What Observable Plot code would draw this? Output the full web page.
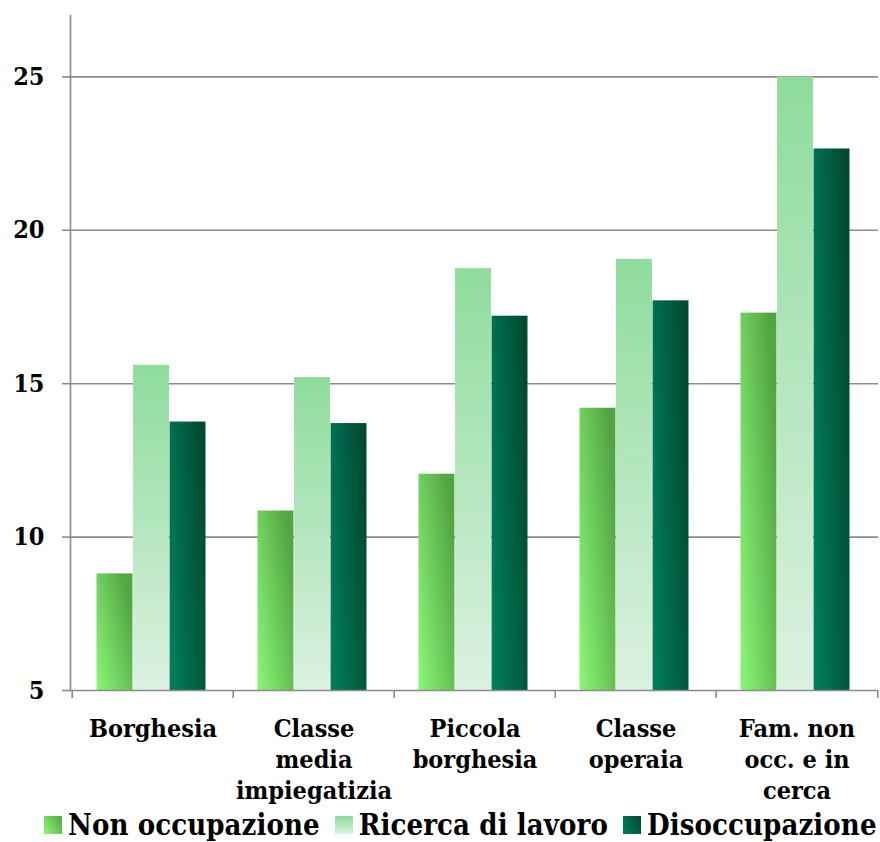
<!DOCTYPE html>
<html><head><meta charset="utf-8">
<script src="https://cdn.jsdelivr.net/npm/d3@7"></script>
<script src="https://cdn.jsdelivr.net/npm/@observablehq/plot@0.6"></script>
<style>
body{margin:0;background:#fff;font-family:"DejaVu Serif Condensed","DejaVu Serif",serif;font-weight:bold;}
#chart svg{display:block;}
#legend{display:flex;align-items:center;height:34px;padding-left:44px;font-size:29px;color:#000;white-space:nowrap;letter-spacing:0.1px;}
#legend .item{display:flex;align-items:center;margin-right:15px;}
#legend .sw{width:18px;height:18px;margin-right:6px;}
</style></head><body><div id="chart"></div><div id="legend"></div>
<script>
const categories = ["Borghesia","Classe media impiegatizia","Piccola borghesia","Classe operaia","Fam. non occ. e in cerca"];
const categoryLabels = ["Borghesia","Classe\nmedia\nimpiegatizia","Piccola\nborghesia","Classe\noperaia","Fam. non\nocc. e in\ncerca"];
const series = ["Non occupazione","Ricerca di lavoro","Disoccupazione"];
const nonOccupazione = [8.8,10.85,12.05,14.2,17.3];
const ricercaLavoro = [15.6,15.2,18.75,19.05,25.0];
const disoccupazione = [13.75,13.7,17.2,17.7,22.65];
const yTicks = [5,10,15,20,25];
const yDomain = [5,27];

const seriesValues = [nonOccupazione, ricercaLavoro, disoccupazione];
const gradients = [
  {id:"g0", x1:0,y1:1,x2:1,y2:0.3, stops:["#8bf878","#53a443"]},
  {id:"g1", x1:0,y1:0,x2:0,y2:1, stops:["#8edc9c","#dcf1e1"]},
  {id:"g2", x1:0,y1:0.7,x2:1,y2:0.3, stops:["#007c5a","#004a31"]}
];

const W = 880, H = 808, mL = 70, mR = 2, mT = 15, mB = 118;
const step = (W - mL - mR) / categories.length;
const outer = 26, bw = (step - 2*outer) / 3;

const marks = [
  Plot.ruleY(yTicks.slice(1), {stroke:"#8c8c8c", strokeWidth:1.6}),
];
seriesValues.forEach((vals, i) => {
  const data = categories.map((c, j) => ({category:c, value:vals[j]}));
  marks.push(Plot.barY(data, {
    x:"category", y1:5, y2:"value", fill:`url(#${gradients[i].id})`,
    insetLeft: outer + i*bw - 1.5, insetRight: step - outer - (i+1)*bw + 1.5
  }));
});
marks.push(
  Plot.ruleY([5], {stroke:"#8c8c8c", strokeWidth:1.6}),
  Plot.frame({anchor:"left", stroke:"#8c8c8c", strokeWidth:1.6}),
  Plot.axisY({ticks:yTicks, tickSize:8, tickPadding:18, stroke:"#8c8c8c", strokeWidth:1.6,
    fontSize:25, fill:"#000", label:null}),
  Plot.ruleX(categories, {x:d=>d, y1:5, y2:5, dx:-step/2, insetBottom:-8, stroke:"#8c8c8c", strokeWidth:1.6}),
  Plot.ruleX([categories[categories.length-1]], {x:d=>d, y1:5, y2:5, dx:step/2, insetBottom:-8, stroke:"#8c8c8c", strokeWidth:1.6}),
  Plot.text(categories, {x:d=>d, y:5, text:(d,i)=>categoryLabels[i], lineAnchor:"top", dy:24, lineHeight:1.25,
    fontSize:25, fill:"#000"})
);

const chart = Plot.plot({
  width: W, height: H, marginLeft: mL, marginRight: mR, marginTop: mT, marginBottom: mB,
  style: {fontFamily:'"DejaVu Serif Condensed","DejaVu Serif",serif', fontWeight:"bold", background:"transparent"},
  x: {type:"band", domain:categories, padding:0, axis:null},
  y: {domain:yDomain, axis:null},
  marks
});

const defs = d3.select(chart).insert("defs", ":first-child");
gradients.forEach(g => {
  const lg = defs.append("linearGradient").attr("id", g.id)
    .attr("x1", g.x1).attr("y1", g.y1).attr("x2", g.x2).attr("y2", g.y2);
  lg.append("stop").attr("offset", "0%").attr("stop-color", g.stops[0]);
  lg.append("stop").attr("offset", "100%").attr("stop-color", g.stops[1]);
});
document.getElementById("chart").appendChild(chart);

const legend = document.getElementById("legend");
const cssGrad = ["linear-gradient(60deg,#8bf878,#53a443)","linear-gradient(180deg,#8edc9c,#dcf1e1)","linear-gradient(70deg,#007c5a,#004a31)"];
series.forEach((s, i) => {
  const item = document.createElement("div"); item.className = "item";
  const sw = document.createElement("div"); sw.className = "sw"; sw.style.background = cssGrad[i];
  const t = document.createElement("span"); t.textContent = s;
  item.appendChild(sw); item.appendChild(t); legend.appendChild(item);
});
</script></body></html>
